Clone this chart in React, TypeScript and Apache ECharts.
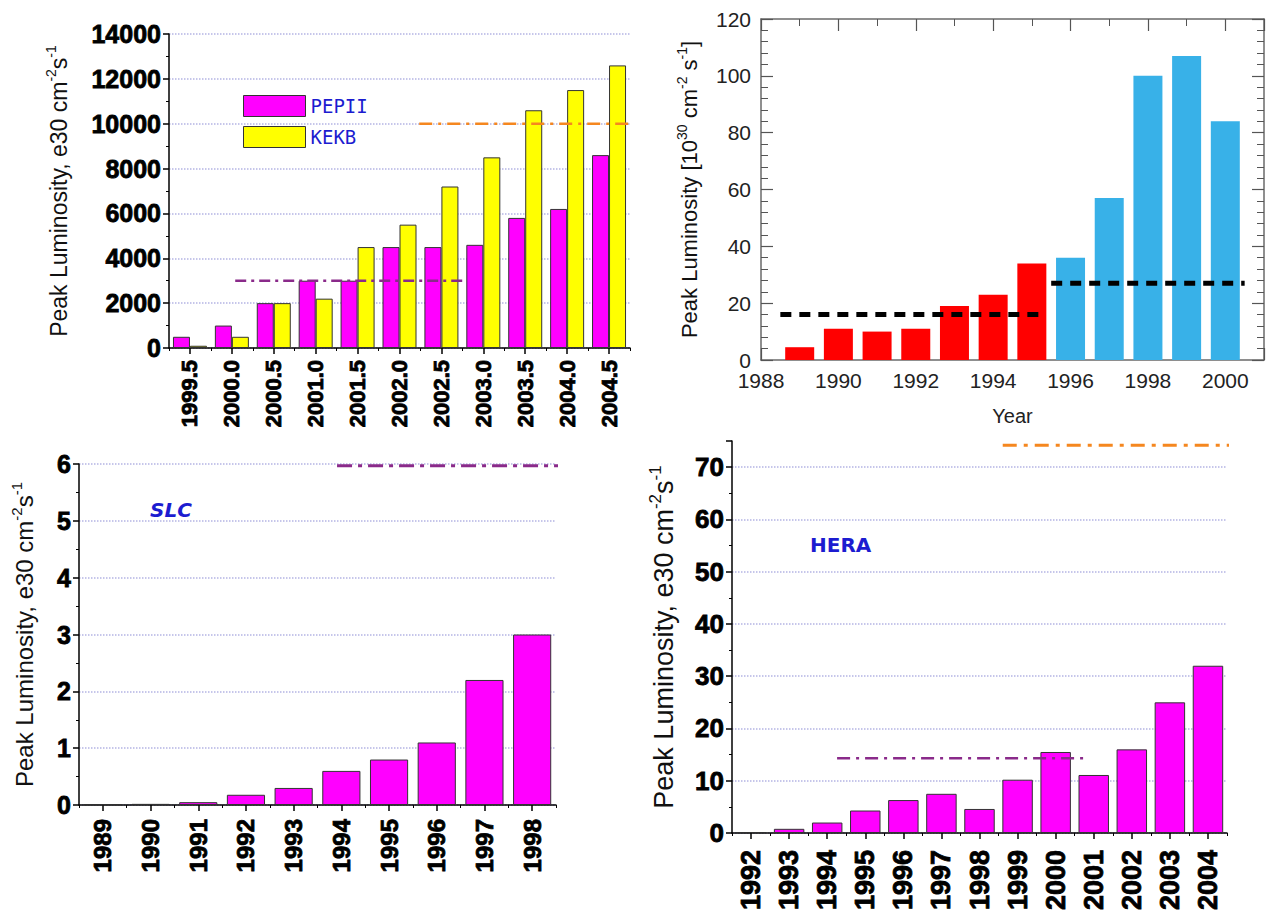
import React, { useEffect, useRef } from 'react';
import * as echarts from 'echarts';

const FONT = '"Liberation Sans", Arial, sans-serif';
const MONO = '"DejaVu Sans Mono", monospace';
const DEJAVU = '"DejaVu Sans", sans-serif';

// ---------- Panel 1: PEPII / KEKB ----------
const p1Categories = ['1999.5', '2000.0', '2000.5', '2001.0', '2001.5', '2002.0', '2002.5', '2003.0', '2003.5', '2004.0', '2004.5'];
const p1Pepii = [500, 1000, 2000, 3000, 3000, 4500, 4500, 4600, 5800, 6200, 8600];
const p1Kekb = [100, 500, 2000, 2200, 4500, 5500, 7200, 8500, 10600, 11500, 12600];
const p1YMax = 14000;
const p1YStep = 2000;
const p1PurpleX = [1.58, 7.11];
const p1PurpleY = 3000;
const p1OrangeX = [5.97, 11.6];
const p1OrangeY = 10000;

// ---------- Panel 2: red/blue years ----------
const p2YearsA = [1989, 1990, 1991, 1992, 1993, 1994, 1995];
const p2ValuesA = [4.5, 11, 10, 11, 19, 23, 34];
const p2YearsB = [1996, 1997, 1998, 1999, 2000];
const p2ValuesB = [36, 57, 100, 107, 84];
const p2XMin = 1988;
const p2XMax = 2001;
const p2YMax = 120;
const p2AvgAX = [1988.5, 1995.35];
const p2AvgAY = 16;
const p2AvgBX = [1995.5, 2000.5];
const p2AvgBY = 27;

// ---------- Panel 3: SLC ----------
const slcYears = ['1989', '1990', '1991', '1992', '1993', '1994', '1995', '1996', '1997', '1998'];
const slcValues = [0.01, 0.02, 0.05, 0.18, 0.3, 0.6, 0.8, 1.1, 2.2, 3.0];
const slcYMax = 6;
const slcRefX = [5.41, 10.46];
const slcRefY = 5.97;

// ---------- Panel 4: HERA ----------
const heraYears = ['1992', '1993', '1994', '1995', '1996', '1997', '1998', '1999', '2000', '2001', '2002', '2003', '2004'];
const heraValues = [0.15, 0.8, 2, 4.3, 6.3, 7.5, 4.6, 10.2, 15.5, 11.1, 16, 25, 32];
const heraYMax = 75;
const heraPurpleX = [2.76, 9.32];
const heraPurpleY = 14.3;
const heraOrangeX = [7.11, 13.67];
const heraOrangeY = 74.2;

const GRID_COLOR = '#b4b4e4';
const MAGENTA = '#ff00ff';
const YELLOW = '#ffff00';
const PURPLE = '#8a2a8a';
const ORANGE = '#f5871f';
const RED = '#ff0000';
const SKY = '#38b1e8';
const LABEL_BLUE = '#1c1cd0';

const plain = (v: number) => String(v);

function nameRich(size: number, sup: number) {
  return {
    n: { fontSize: size, fontFamily: FONT, color: '#111', lineHeight: size + 6 },
    s: { fontSize: sup, fontFamily: FONT, color: '#111', verticalAlign: 'top', lineHeight: sup },
  };
}

function catAxes(grid: number, data: string[], labelSize: number, margin: number) {
  return [
    {
      type: 'category', gridIndex: grid, position: 'bottom', data,
      axisLine: { show: true, onZero: false, lineStyle: { color: '#000', width: 1.5 } },
      axisTick: { show: true, alignWithLabel: true, interval: 0, length: 6, lineStyle: { color: '#000', width: 1.5 } },
      axisLabel: {
        rotate: 90, interval: 0, fontSize: labelSize, fontWeight: 'bold', fontFamily: FONT, color: '#000', margin,
        textBorderColor: '#000', textBorderWidth: 0.8,
      },
      splitLine: { show: false },
    },
    {
      type: 'category', gridIndex: grid, position: 'bottom', data,
      axisLine: { show: false },
      axisTick: { show: true, interval: 0, length: 3, lineStyle: { color: '#000', width: 1 } },
      axisLabel: { show: false },
      splitLine: { show: false },
    },
  ];
}

function hiddenX(grid: number, n: number) {
  return { type: 'value', gridIndex: grid, position: 'bottom', min: 0, max: n, show: false };
}

function boldY(grid: number, max: number, interval: number, labelSize: number, name: string, nameSize: number, nameGap: number, showMax: boolean) {
  return {
    type: 'value', gridIndex: grid, min: 0, max, interval,
    axisLine: { show: true, onZero: false, lineStyle: { color: '#000', width: 1.5 } },
    axisTick: { show: true, length: 6, lineStyle: { color: '#000', width: 1.5 } },
    minorTick: { show: true, splitNumber: 2, length: 3, lineStyle: { color: '#000', width: 1 } },
    axisLabel: {
      fontSize: labelSize, fontWeight: 'bold', fontFamily: FONT, color: '#000', margin: 8, showMaxLabel: showMax, formatter: plain,
      textBorderColor: '#000', textBorderWidth: 0.8,
    },
    splitLine: { show: true, showMaxLine: showMax, lineStyle: { type: 'dotted', color: GRID_COLOR, width: 1.5 } },
    name, nameLocation: 'middle', nameGap,
    nameTextStyle: { rich: nameRich(nameSize, Math.round(nameSize * 0.62)) },
  };
}

function refLine(xAxisIndex: number, yAxisIndex: number, xs: number[], y: number, color: string, width: number, dash: number[]) {
  return {
    type: 'line', xAxisIndex, yAxisIndex, clip: false, silent: true, symbol: 'none', z: 5,
    data: [[xs[0], y], [xs[1], y]],
    lineStyle: { color, width, type: dash },
  };
}

const frameColor = '#6a6a6a';

function p2Axis(dim: 'x' | 'y', position: string, showLabels: boolean) {
  const isX = dim === 'x';
  return {
    type: 'value', gridIndex: 1, position,
    min: isX ? p2XMin : 0, max: isX ? p2XMax : p2YMax, interval: isX ? 2 : 20,
    axisLine: { show: true, onZero: false, lineStyle: { color: frameColor, width: 1.5 } },
    axisTick: { show: true, inside: true, length: 12, lineStyle: { color: '#555', width: 1.2 } },
    minorTick: { show: true, inside: true, splitNumber: isX ? 2 : 5, length: 7, lineStyle: { color: '#555', width: 1 } },
    axisLabel: { show: showLabels, fontSize: 21, fontFamily: FONT, color: '#222', margin: 10, showMaxLabel: !isX, formatter: plain },
    splitLine: { show: false },
  };
}

export default function App() {
  const ref = useRef<HTMLDivElement>(null);
  useEffect(() => {
    if (!ref.current) return;
    const chart = echarts.init(ref.current, null, { renderer: 'svg' });

    const p1Axes = catAxes(0, p1Categories, 22, 12);
    const slcAxes = catAxes(2, slcYears, 24, 14);
    const heraAxes = catAxes(3, heraYears, 27, 17);

    const p2BarData = [
      ...p2YearsA.map((y, i) => ({ value: [y, p2ValuesA[i]], itemStyle: { color: RED } })),
      ...p2YearsB.map((y, i) => ({ value: [y, p2ValuesB[i]], itemStyle: { color: SKY } })),
    ];

    const p2Bottom: any = p2Axis('x', 'bottom', true);
    p2Bottom.name = 'Year';
    p2Bottom.nameLocation = 'middle';
    p2Bottom.nameGap = 46;
    p2Bottom.nameTextStyle = { fontSize: 20, fontFamily: FONT, color: '#222' };
    const p2Left: any = p2Axis('y', 'left', true);
    p2Left.name = '{n|Peak Luminosity [10}{s|30}{n| cm}{s|-2}{n| s}{s|-1}{n|]}';
    p2Left.nameLocation = 'middle';
    p2Left.nameGap = 58;
    p2Left.nameTextStyle = { rich: nameRich(22, 14) };

    const option: any = {
      animation: false,
      backgroundColor: '#fff',
      grid: [
        { left: 169, top: 34, width: 461, height: 314, outerBoundsMode: 'none' },
        { left: 761, top: 19, width: 503, height: 341, outerBoundsMode: 'none' },
        { left: 79, top: 464, width: 477, height: 341, outerBoundsMode: 'none' },
        { left: 732, top: 441, width: 495, height: 392, outerBoundsMode: 'none' },
      ],
      legend: {
        data: ['PEPII', 'KEKB'], orient: 'vertical', left: 243, top: 95, padding: 0,
        itemWidth: 62, itemHeight: 21, itemGap: 9, icon: 'rect', selectedMode: false,
        textStyle: { color: LABEL_BLUE, fontSize: 19, fontFamily: MONO },
        itemStyle: { borderColor: '#333', borderWidth: 1 },
      },
      xAxis: [
        p1Axes[0], p1Axes[1], hiddenX(0, p1Categories.length),
        p2Bottom, p2Axis('x', 'top', false),
        slcAxes[0], slcAxes[1], hiddenX(2, slcYears.length),
        heraAxes[0], heraAxes[1], hiddenX(3, heraYears.length),
      ],
      yAxis: [
        boldY(0, p1YMax, p1YStep, 25, '{n|Peak Luminosity, e30 cm}{s|-2}{n|s}{s|-1}', 23, 96, true),
        p2Left,
        p2Axis('y', 'right', false),
        boldY(2, slcYMax, 1, 25, '{n|Peak Luminosity, e30 cm}{s|-2}{n|s}{s|-1}', 24, 40, true),
        boldY(3, heraYMax, 10, 26, '{n|Peak Luminosity, e30 cm}{s|-2}{n|s}{s|-1}', 27, 52, false),
      ],
      series: [
        {
          name: 'PEPII', type: 'bar', xAxisIndex: 0, yAxisIndex: 0, data: p1Pepii, barWidth: 17, barGap: '0%',
          itemStyle: { color: MAGENTA, borderColor: '#333', borderWidth: 1 },
        },
        {
          name: 'KEKB', type: 'bar', xAxisIndex: 0, yAxisIndex: 0, data: p1Kekb, barWidth: 17, barGap: '0%',
          itemStyle: { color: YELLOW, borderColor: '#333', borderWidth: 1 },
        },
        refLine(2, 0, p1PurpleX, p1PurpleY, PURPLE, 2.5, [11, 5, 3, 5]),
        refLine(2, 0, p1OrangeX, p1OrangeY, ORANGE, 2.5, [13, 6, 3, 6]),

        { name: 'phase', type: 'bar', xAxisIndex: 3, yAxisIndex: 1, data: p2BarData, barWidth: 29 },
        refLine(3, 1, p2AvgAX, p2AvgAY, '#000', 5, [11, 8]),
        refLine(3, 1, p2AvgBX, p2AvgBY, '#000', 5, [11, 8]),

        {
          name: 'SLC', type: 'bar', xAxisIndex: 5, yAxisIndex: 3, data: slcValues, barWidth: '80%',
          itemStyle: { color: MAGENTA, borderColor: '#333', borderWidth: 1 },
        },
        refLine(7, 3, slcRefX, slcRefY, PURPLE, 3, [15, 6, 4, 6]),

        {
          name: 'HERA', type: 'bar', xAxisIndex: 8, yAxisIndex: 4, data: heraValues, barWidth: '80%',
          itemStyle: { color: MAGENTA, borderColor: '#333', borderWidth: 1 },
        },
        refLine(10, 4, heraPurpleX, heraPurpleY, PURPLE, 2.5, [13, 6, 3, 6]),
        refLine(10, 4, heraOrangeX, heraOrangeY, ORANGE, 3, [14, 7, 4, 7]),
      ],
      graphic: [
        {
          type: 'text', left: 150, top: 500,
          style: { text: 'SLC', fill: LABEL_BLUE, font: `italic bold 20px ${DEJAVU}` },
        },
        {
          type: 'text', left: 810, top: 535,
          style: { text: 'HERA', fill: LABEL_BLUE, font: `bold 20px ${DEJAVU}` },
        },
      ],
    };
    chart.setOption(option);
    return () => chart.dispose();
  }, []);
  return (
    <div
      ref={ref}
      style={{ position: 'absolute', left: 0, top: 0, width: 1269, height: 918, background: '#fff' }}
    />
  );
}
